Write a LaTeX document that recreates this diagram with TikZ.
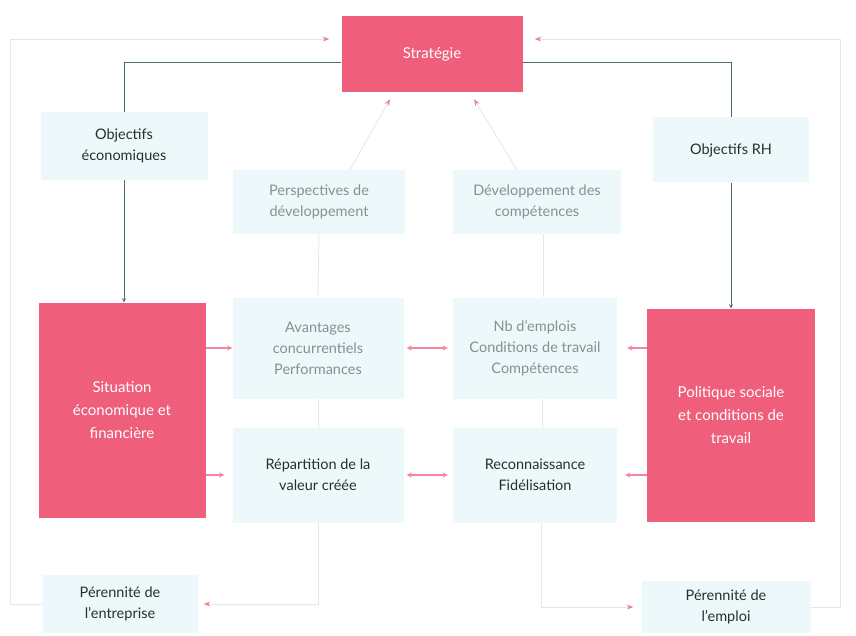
\documentclass[tikz,border=0pt]{standalone}
\usepackage{fontspec}
\setmainfont{Lato}
\usepackage{tikz}
\usetikzlibrary{arrows, arrows.meta}
\definecolor{rose}{RGB}{239, 94, 123}
\definecolor{pale}{RGB}{236, 248, 250}
\definecolor{slate}{RGB}{78, 110, 106}
\definecolor{ink}{RGB}{40, 46, 48}
\definecolor{mist}{RGB}{135, 143, 145}
\definecolor{faint}{RGB}{226, 231, 233}

\begin{document}
\begin{tikzpicture}[
    x=1pt, y=-1pt,
    redbox/.style={rectangle, fill=rose, text=white, align=center,
        inner sep=0pt, font=\fontsize{15}{23}\selectfont},
    box/.style={rectangle, fill=pale, text=ink, align=center,
        inner sep=0pt, font=\fontsize{14.5}{21}\selectfont},
    dimbox/.style={box, text=mist},
    link/.style={thick, slate},
    arrow/.style={link, ->, >=stealth},
    pinkarrow/.style={line width=1.3pt, rose!75, ->, >=stealth},
    pinkboth/.style={pinkarrow, <->},
    soft/.style={thick, faint},
    feedback/.style={thick, faint, -{Stealth[rose!80]}}
]
    \useasboundingbox (0,0) rectangle (856,636);

    % Top
    \node[redbox, minimum width=181pt, minimum height=76pt] (strat) at (432,54) {Stratégie};
    \node[box, minimum width=167pt, minimum height=68pt] (objeco) at (124,146) {Objectifs\\économiques};
    \node[box, minimum width=156pt, minimum height=65pt] (objrh) at (731,150) {Objectifs RH};
    \node[dimbox, minimum width=172pt, minimum height=64pt] (persp) at (319,202) {Perspectives de\\développement};
    \node[dimbox, minimum width=168pt, minimum height=64pt] (devcomp) at (537,202) {Développement des\\compétences};

    % Middle
    \node[redbox, minimum width=167pt, minimum height=215pt] (sit) at (122,410) {Situation\\économique et\\financière};
    \node[redbox, minimum width=168pt, minimum height=213pt] (pol) at (731,415) {Politique sociale\\et conditions de\\travail};
    \node[dimbox, minimum width=171pt, minimum height=101pt] (avant) at (318,348) {Avantages\\concurrentiels\\Performances};
    \node[dimbox, minimum width=164pt, minimum height=101pt] (nbemp) at (535,348) {Nb d'emplois\\Conditions de travail\\Compétences};
    \node[box, minimum width=171pt, minimum height=95pt] (repart) at (318,475) {Répartition de la\\valeur créée};
    \node[box, minimum width=164pt, minimum height=95pt] (recon) at (535,475) {Reconnaissance\\Fidélisation};

    % Bottom
    \node[box, minimum width=155pt, minimum height=58pt] (perent) at (120,604) {Pérennité de\\l'entreprise};
    \node[box, minimum width=169pt, minimum height=52pt] (peremp) at (726,607) {Pérennité de\\l'emploi};

    \coordinate (lcorner) at (10,39);
    \coordinate (rcorner) at (840,39);

    % Arrows
    \draw[link] ([yshift=-8pt]strat.west) -| (objeco.north);
    \draw[link] ([yshift=-8pt]strat.east) -| (objrh.north);
    \draw[arrow] (objeco.south) -- (objeco.south |- sit.north);
    \draw[arrow] (objrh.south) -- (objrh.south |- pol.north);

    \draw[feedback] ([xshift=31pt]persp.north) -- ([xshift=-42pt, yshift=-7pt]strat.south);
    \draw[feedback] ([xshift=-20pt]devcomp.north) -- ([xshift=42pt, yshift=-7pt]strat.south);
    \draw[soft] (persp.south) -- (avant.north);
    \draw[soft] ([xshift=6pt]devcomp.south) -- ([xshift=8pt]nbemp.north);
    \draw[soft] (avant.south) -- (repart.north);
    \draw[soft] ([xshift=7pt]nbemp.south) -- ([xshift=7pt]recon.north);

    \draw[pinkarrow] (sit.east |- avant) -- (avant.west);
    \draw[pinkarrow] (sit.east |- repart) -- ([xshift=-8pt]repart.west);
    \draw[pinkboth, shorten <=3pt, shorten >=5pt] (avant) -- (nbemp);
    \draw[pinkboth, shorten <=3pt, shorten >=5pt] (repart) -- (recon);
    \draw[pinkarrow] (pol.west |- nbemp) -- ([xshift=10pt]nbemp.east);
    \draw[pinkarrow] (pol.west |- recon) -- ([xshift=8pt]recon.east);

    \draw[feedback] (repart.south) |- ([xshift=6pt]perent.east);
    \draw[feedback] ([xshift=6pt]recon.south) |- ([xshift=-8pt]peremp.west);
    \draw[feedback] (perent.west) -| (lcorner) -- ([xshift=-12pt]lcorner -| strat.west);
    \draw[feedback] (peremp.east) -| (rcorner) -- ([xshift=12pt]rcorner -| strat.east);
\end{tikzpicture}
\end{document}
